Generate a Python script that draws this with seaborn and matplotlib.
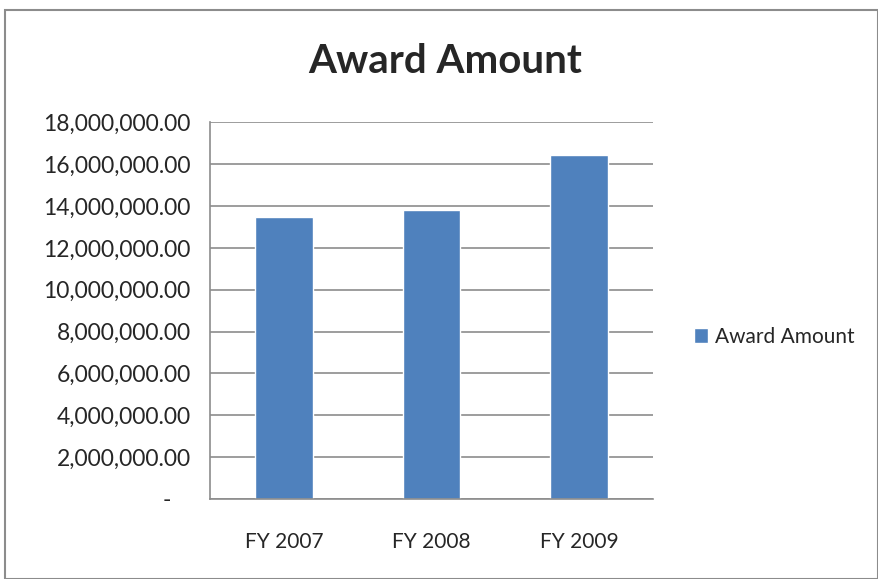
import pandas as pd
import numpy as np
import seaborn as sns
import matplotlib.pyplot as plt
from matplotlib.patches import Rectangle
from matplotlib.ticker import FuncFormatter

years = ['FY 2007', 'FY 2008', 'FY 2009']
award_amount = [13490000, 13800000, 16460000]
series_name = 'Award Amount'

df = pd.DataFrame({'Year': years, 'Amount': award_amount})

sns.set_style('white')
plt.rcParams['font.family'] = ['Lato', 'DejaVu Sans']

fig = plt.figure(figsize=(8.79, 5.79), dpi=100)
ax = fig.add_axes([0.2389, 0.1382, 0.504, 0.6506])

sns.barplot(data=df, x='Year', y='Amount', color='#4F81BD', width=0.39,
            saturation=1, ax=ax, label=series_name)

# accounting style: zero shown as a dash, set in from the right
ax.set_ylim(0, 18000000)
ax.set_yticks(np.arange(0, 18000001, 2000000))
ax.yaxis.set_major_formatter(FuncFormatter(lambda v, p: '-\u2007 ' if v == 0 else f'{v:,.2f}'))
ax.set_xlim(-0.5, 2.5)
ax.set_xlabel('')
ax.set_ylabel('')

ax.grid(axis='y', color='#8c8c8c', linewidth=1.2)
ax.set_axisbelow(True)
for side in ['top', 'right']:
    ax.spines[side].set_visible(False)
ax.spines['left'].set_color('#8c8c8c')
ax.spines['bottom'].set_color('#8c8c8c')

ax.tick_params(axis='y', length=7, color='#8c8c8c', labelsize=16.5, pad=7)
ax.tick_params(axis='x', which='major', length=0, labelsize=15, pad=24)
ax.set_xticks([-0.5, 0.5, 1.5, 2.5], minor=True)
ax.tick_params(axis='x', which='minor', length=7, color='#8c8c8c')
ax.spines['left'].set_linewidth(1.2)
ax.spines['bottom'].set_linewidth(1.2)

fig.text(0.506, 0.893, series_name, ha='center', va='center',
         fontsize=29, fontweight='bold')

ax.legend(loc='center left', bbox_to_anchor=(0.768, 0.418), bbox_transform=fig.transFigure,
          frameon=False, fontsize=15, handlelength=0.7, handleheight=0.7,
          handletextpad=0.3)

fig.patches.append(Rectangle((5 / 879, 0.0), 1 - 6 / 879, 1 - 10 / 579,
                             transform=fig.transFigure, fill=False,
                             edgecolor='#8c8c8c', linewidth=1.5))

fig.savefig('out.png', dpi=100)
